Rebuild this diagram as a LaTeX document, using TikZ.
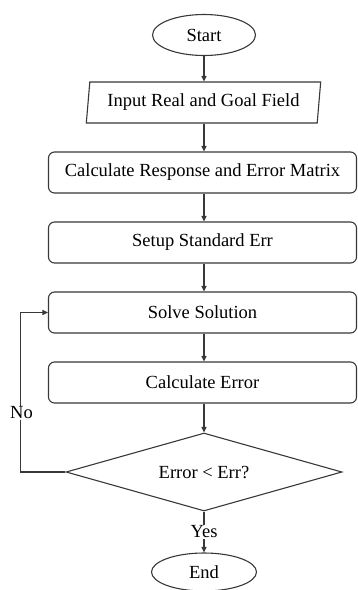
\documentclass[tikz,border=0pt]{standalone}
\usepackage{fontspec}
\setmainfont{Liberation Serif}
\usetikzlibrary{shapes.geometric,arrows.meta}
\begin{document}
\begin{tikzpicture}[x=1pt,y=-1pt,
  font=\fontsize{18.5}{22}\selectfont,
  line width=1pt,
  every node/.style={inner sep=0pt},
  ln/.style={draw=black!78, line width=1.1pt},
  arr/.style={ln, -{Triangle[length=5.5pt,width=5pt]}},
  term/.style={ln, ellipse, minimum width=103pt, minimum height=41pt},
  procbox/.style={ln, rectangle, rounded corners=6pt, minimum width=308pt, minimum height=41pt},
  iobox/.style={ln, trapezium, trapezium left angle=80, trapezium right angle=100, trapezium stretches=true, minimum width=235pt, minimum height=41pt},
  decbox/.style={ln, diamond, aspect=3.5, minimum width=276pt, minimum height=78pt},
  lbl/.style={fill=white, inner sep=1pt}
]
\useasboundingbox (0,0) rectangle (357,590);
\node[term] (start) at (204,35) {Start};
\node[iobox] (input) at (203.5,102.5) {Input Real and Goal Field};
\node[procbox] (calc) at (202.5,172.5) {Calculate Response and Error Matrix};
\node[procbox] (setup) at (202.5,242.5) {Setup Standard Err};
\node[procbox] (solve) at (202.5,312.5) {Solve Solution};
\node[procbox] (err) at (202.5,382.5) {Calculate Error};
\node[decbox] (dec) at (204,472) {Error < Err?};
\node[term, minimum width=105pt, minimum height=38pt] (end) at (204,572) {End};
\coordinate (fb) at (20.5,0);

\draw[arr] (start.south) -- (start.south |- input.north);
\draw[arr] (start.south |- input.south) -- (start.south |- calc.north);
\draw[arr] (start.south |- calc.south) -- (start.south |- setup.north);
\draw[arr] (start.south |- setup.south) -- (start.south |- solve.north);
\draw[arr] (start.south |- solve.south) -- (start.south |- err.north);
\draw[arr] (start.south |- err.south) -- (dec.north);
\draw[arr] (dec.south) -- (end.north);
\draw[arr] (dec.west) -- (dec.west -| fb) |- (solve.west);
\node[lbl] (no) at (21.5,413) {No};
\node[lbl] (yes) at (204,532) {Yes};
\end{tikzpicture}
\end{document}
